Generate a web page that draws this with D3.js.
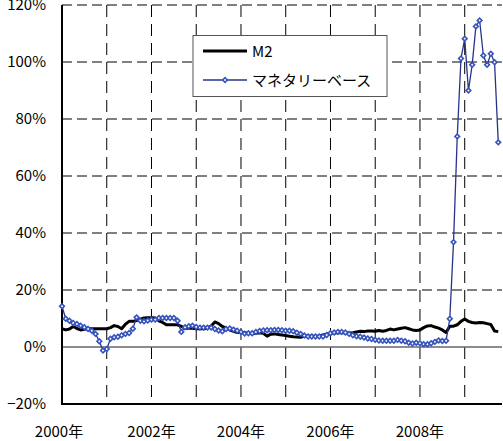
<!DOCTYPE html>
<html>
<head>
<meta charset="utf-8">
<script src="https://cdn.jsdelivr.net/npm/d3@7"></script>
<style>
  body { margin: 0; background: #fff; }
  svg { display: block; font-family: "Noto Sans CJK JP", sans-serif; }
</style>
</head>
<body>
<svg width="503" height="441"></svg>
<script>
// monthly YoY growth (%), Jan 2000 -> Oct 2009
const m2 = [
  6.4, 6.0, 6.3, 7.2, 6.5, 6.0, 6.2, 6.4, 6.4, 6.4,
  6.4, 6.4, 6.4, 6.8, 7.5, 7.2, 6.4, 8.0, 9.0, 9.0,
  9.3, 9.8, 10.2, 10.3, 10.3, 10.2, 9.2, 8.6, 7.8, 7.8,
  7.8, 7.8, 7.2, 6.6, 6.6, 6.6, 6.4, 6.4, 6.4, 6.6,
  7.4, 8.8, 8.2, 7.2, 6.6, 6.0, 5.5, 5.1, 5.1, 5.0,
  4.8, 4.6, 4.8, 5.0, 4.8, 3.8, 4.5, 4.6, 4.4, 4.2,
  4.0, 3.8, 3.6, 3.5, 3.4, 3.8, 3.9, 3.8, 3.8, 3.9,
  4.2, 4.5, 4.7, 4.9, 5.0, 5.1, 5.0, 4.9, 5.0, 5.3,
  5.5, 5.4, 5.6, 5.6, 5.5, 5.8, 5.5, 5.8, 6.3, 6.0,
  6.3, 6.6, 6.8, 6.4, 6.0, 5.8, 6.0, 6.8, 7.4, 7.5,
  7.0, 6.6, 6.0, 5.1, 7.3, 7.3, 7.8, 9.0, 9.8, 9.0,
  8.6, 8.4, 8.6, 8.5, 8.2, 7.9, 5.6, 5.4
];
const base = [
  14.3, 9.9, 9.2, 8.4, 8.1, 7.5, 6.9, 6.3, 5.7, 4.6,
  2.0, -1.2, -0.7, 2.9, 3.4, 3.6, 4.1, 4.6, 4.9, 6.4,
  10.4, 9.2, 9.0, 9.3, 9.6, 9.6, 10.2, 10.2, 10.2, 10.2,
  10.2, 9.2, 5.3, 6.9, 7.3, 7.5, 7.0, 6.8, 6.8, 6.8,
  6.8, 6.3, 5.8, 5.5, 6.3, 6.5, 6.1, 5.7, 5.3, 4.7,
  4.8, 4.8, 5.3, 5.6, 5.8, 5.9, 5.9, 6.0, 6.0, 5.9,
  5.7, 5.7, 5.5, 5.0, 4.6, 4.0, 3.7, 3.7, 3.7, 3.7,
  3.7, 4.2, 4.8, 5.1, 5.3, 5.3, 5.1, 4.6, 4.1, 3.8,
  3.6, 3.3, 3.0, 2.8, 2.5, 2.3, 2.2, 2.2, 2.2, 2.2,
  2.5, 2.2, 2.0, 1.5, 1.2, 1.5, 1.3, 1.0, 1.0, 1.3,
  1.8, 2.3, 2.1, 2.2, 9.9, 36.8, 73.9, 101.2, 108.2, 90.0,
  99.0, 112.5, 114.6, 102.3, 99.0, 102.9, 99.9, 71.8
];
const yTicks = [-20, 0, 20, 40, 60, 80, 100, 120];
const years = [2000, 2001, 2002, 2003, 2004, 2005, 2006, 2007, 2008, 2009];
const labelYears = [2000, 2002, 2004, 2006, 2008];
const seriesNames = ["M2", "マネタリーベース"];

const svg = d3.select("svg");
const plotLeft = 62, plotRight = 502, plotTop = 5, plotBottom = 404;

const x = d3.scaleLinear().domain([0, 118]).range([plotLeft, plotRight]);
const y = d3.scaleLinear().domain([-20, 120]).range([plotBottom, plotTop]);
const yearX = yr => x((yr - 2000) * 12);

// dashed grid
svg.append("g").selectAll("line")
  .data(yTicks.filter(v => v > 0))
  .join("line")
  .attr("x1", plotLeft).attr("x2", plotRight)
  .attr("y1", d => y(d)).attr("y2", d => y(d))
  .attr("stroke", "#000").attr("stroke-width", 1)
  .attr("stroke-dasharray", "10,5");

svg.append("g").selectAll("line")
  .data(years.slice(1))
  .join("line")
  .attr("x1", d => yearX(d)).attr("x2", d => yearX(d))
  .attr("y1", plotTop).attr("y2", plotBottom)
  .attr("stroke", "#000").attr("stroke-width", 1)
  .attr("stroke-dasharray", "12,7");

// zero line
svg.append("line")
  .attr("x1", plotLeft).attr("x2", plotRight)
  .attr("y1", y(0)).attr("y2", y(0))
  .attr("stroke", "#666").attr("stroke-width", 1.5);

// axes lines
svg.append("line").attr("x1", plotLeft).attr("x2", plotLeft)
  .attr("y1", plotTop).attr("y2", plotBottom)
  .attr("stroke", "#000").attr("stroke-width", 2);
svg.append("line").attr("x1", plotLeft - 1).attr("x2", plotRight)
  .attr("y1", plotBottom).attr("y2", plotBottom)
  .attr("stroke", "#000").attr("stroke-width", 2);

// y labels
svg.append("g").selectAll("text")
  .data(yTicks)
  .join("text")
  .attr("x", 46).attr("y", d => y(d))
  .attr("dy", "0.36em")
  .attr("text-anchor", "end")
  .attr("font-size", 15)
  .attr("fill", "#000")
  .text(d => (d < 0 ? "\u2212" + (-d) : d) + "%");

// x labels
svg.append("g").selectAll("text")
  .data(labelYears)
  .join("text")
  .attr("x", d => yearX(d) - (d === 2000 ? 3 : 0)).attr("y", 432)
  .attr("dy", "0.36em")
  .attr("text-anchor", "middle")
  .attr("font-size", 15)
  .attr("fill", "#000")
  .text(d => d + "年");

// series
const line = d3.line().x((d, i) => x(i)).y(d => y(d));

svg.append("path").datum(m2)
  .attr("d", line)
  .attr("fill", "none").attr("stroke", "#000").attr("stroke-width", 3)
  .attr("stroke-linejoin", "round");

svg.append("path").datum(base)
  .attr("d", line)
  .attr("fill", "none").attr("stroke", "#27348b").attr("stroke-width", 1.3);

const marker = d3.symbol().type(d3.symbolSquare).size(11);
svg.append("g").selectAll("path")
  .data(base)
  .join("path")
  .attr("d", marker)
  .attr("transform", (d, i) => `translate(${x(i)},${y(d)}) rotate(45)`)
  .attr("fill", "#fff").attr("stroke", "#3553bd").attr("stroke-width", 1.6);

// legend
const lg = svg.append("g");
lg.append("rect")
  .attr("x", 193).attr("y", 35.5).attr("width", 194).attr("height", 61)
  .attr("fill", "#fff").attr("stroke", "#555").attr("stroke-width", 1);
lg.append("line").attr("x1", 203).attr("x2", 247).attr("y1", 51).attr("y2", 51)
  .attr("stroke", "#000").attr("stroke-width", 3);
lg.append("line").attr("x1", 203).attr("x2", 247).attr("y1", 80).attr("y2", 80)
  .attr("stroke", "#27348b").attr("stroke-width", 1.3);
lg.append("path").attr("d", marker)
  .attr("transform", "translate(225,80) rotate(45)")
  .attr("fill", "#fff").attr("stroke", "#3553bd").attr("stroke-width", 1.6);
lg.selectAll("text")
  .data(seriesNames)
  .join("text")
  .attr("x", 252).attr("y", (d, i) => 52 + i * 29)
  .attr("dy", "0.36em")
  .attr("font-size", 15)
  .attr("fill", "#000")
  .text(d => d);
</script>
</body>
</html>
